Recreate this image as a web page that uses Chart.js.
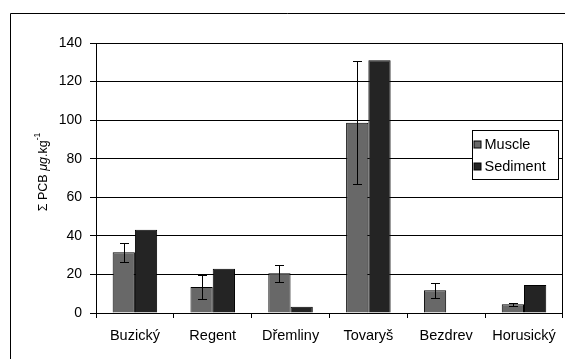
<!DOCTYPE html>
<html>
<head>
<meta charset="utf-8">
<script src="https://cdn.jsdelivr.net/npm/chart.js@4/dist/chart.umd.min.js"></script>
<style>
  html, body { margin: 0; padding: 0; background: #fff; }
  #wrap { width: 565px; height: 359px; position: relative; }
</style>
</head>
<body>
<div id="wrap"><canvas id="c" width="565" height="359"></canvas></div>
<script>
// Sites along the river
const sites = ['Buzický', 'Regent', 'Dřemliny', 'Tovaryš', 'Bezdrev', 'Horusický'];
// Σ PCB in fish muscle (mean) and its spread
const muscle = [31.5, 13.5, 20.6, 98.7, 11.8, 4.5];
const muscleErr = [4.8, 6.0, 4.4, 32.0, 4.0, 0.8];
// Σ PCB in sediment
const sediment = [43.2, 23.0, 3.3, 131.0, null, 14.5];
// Axis range and step
const yMax = 140;
const yStep = 20;

const FONT = '"Liberation Sans", Arial, sans-serif';
const MUSCLE_COLOR = '#686868';
const SEDIMENT_COLOR = '#242424';

// Outer frame around the chart object
const framePlugin = {
  id: 'frame',
  beforeDraw(chart) {
    const ctx = chart.ctx;
    ctx.save();
    ctx.fillStyle = '#fff';
    ctx.fillRect(0, 0, chart.width, chart.height);
    ctx.strokeStyle = '#000';
    ctx.lineWidth = 1;
    ctx.beginPath();
    ctx.moveTo(10.5, chart.height);
    ctx.lineTo(10.5, 13.5);
    ctx.lineTo(chart.width, 13.5);
    ctx.stroke();
    ctx.restore();
  },
  afterDraw(chart) {
    const ctx = chart.ctx;
    const a = chart.chartArea;
    ctx.save();
    ctx.strokeStyle = '#000';
    ctx.lineWidth = 1;
    ctx.beginPath();
    ctx.moveTo(Math.round(a.right) - 0.5, a.top);
    ctx.lineTo(Math.round(a.right) - 0.5, a.bottom + 4);
    ctx.stroke();
    ctx.restore();
  }
};

// Error bars on the muscle series
const errorBarPlugin = {
  id: 'errorBars',
  afterDatasetsDraw(chart) {
    const ctx = chart.ctx;
    const meta = chart.getDatasetMeta(0);
    const y = chart.scales.y;
    ctx.save();
    ctx.strokeStyle = '#000';
    ctx.lineWidth = 1;
    meta.data.forEach((bar, i) => {
      const v = muscle[i];
      const e = muscleErr[i];
      if (v == null || e == null) return;
      const x = Math.round(bar.x) + 0.5;
      const yTop = Math.round(y.getPixelForValue(v + e)) + 0.5;
      const yBot = Math.round(y.getPixelForValue(v - e)) + 0.5;
      const cap = 4.5;
      ctx.beginPath();
      ctx.moveTo(x, yTop); ctx.lineTo(x, yBot);
      ctx.moveTo(x - cap, yTop); ctx.lineTo(x + cap, yTop);
      ctx.moveTo(x - cap, yBot); ctx.lineTo(x + cap, yBot);
      ctx.stroke();
    });
    ctx.restore();
  }
};

// Boxed legend inside the plot area, right side
const boxLegendPlugin = {
  id: 'boxLegend',
  afterDraw(chart) {
    const ctx = chart.ctx;
    const a = chart.chartArea;
    const w = 86, h = 49;
    const left = Math.round(a.right - 91) + 0.5;
    const top = Math.round(a.top + 87) + 0.5;
    ctx.save();
    ctx.fillStyle = '#fff';
    ctx.fillRect(left, top, w, h);
    ctx.strokeStyle = '#000';
    ctx.lineWidth = 1;
    ctx.strokeRect(left, top, w, h);
    ctx.font = '14.5px ' + FONT;
    ctx.textBaseline = 'middle';
    chart.data.datasets.forEach((ds, i) => {
      const cy = top + 14 + i * 22;
      ctx.fillStyle = ds.backgroundColor;
      ctx.fillRect(left + 1.5, cy - 3.5, 7, 7);
      ctx.strokeStyle = '#000';
      ctx.strokeRect(left + 1.5, cy - 3.5, 7, 7);
      ctx.fillStyle = '#000';
      ctx.fillText(ds.label, left + 12, cy + 0.5);
    });
    ctx.restore();
  }
};

// Rotated y-axis title with italic unit and superscript exponent
const yTitlePlugin = {
  id: 'yTitle',
  afterDraw(chart) {
    const ctx = chart.ctx;
    const a = chart.chartArea;
    const parts = [
      { t: 'Σ PCB ', f: '12.5px ' + FONT, dy: 0 },
      { t: 'μg', f: 'italic 12.5px ' + FONT, dy: 0 },
      { t: '.kg', f: '12.5px ' + FONT, dy: 0 },
      { t: '-1', f: '8.5px ' + FONT, dy: -6 }
    ];
    ctx.save();
    let total = 0;
    parts.forEach(p => { ctx.font = p.f; p.w = ctx.measureText(p.t).width; total += p.w; });
    ctx.translate(44, (a.top + a.bottom) / 2 - 6);
    ctx.rotate(-Math.PI / 2);
    ctx.fillStyle = '#000';
    ctx.textBaseline = 'middle';
    let x = -total / 2;
    parts.forEach(p => {
      ctx.font = p.f;
      ctx.fillText(p.t, x, p.dy);
      x += p.w;
    });
    ctx.restore();
  }
};

new Chart(document.getElementById('c'), {
  type: 'bar',
  data: {
    labels: sites,
    datasets: [
      {
        label: 'Muscle',
        data: muscle,
        backgroundColor: MUSCLE_COLOR,
        borderColor: '#000',
        borderWidth: 1,
        borderSkipped: 'start'
      },
      {
        label: 'Sediment',
        data: sediment,
        backgroundColor: SEDIMENT_COLOR,
        borderColor: '#000',
        borderWidth: 1,
        borderSkipped: 'start'
      }
    ]
  },
  options: {
    responsive: false,
    animation: false,
    devicePixelRatio: 1,
    layout: { padding: { top: 43, right: 2, bottom: 0, left: 0 } },
    datasets: {
      bar: { categoryPercentage: 0.572, barPercentage: 1.0 }
    },
    plugins: {
      legend: { display: false },
      tooltip: { enabled: false },
      title: { display: false }
    },
    scales: {
      x: {
        offset: true,
        grid: {
          offset: true,
          drawOnChartArea: false,
          drawTicks: true,
          tickLength: 5,
          color: '#000'
        },
        border: { color: '#000', width: 1 },
        ticks: {
          color: '#000',
          font: { family: FONT, size: 14.5 },
          padding: 9,
          maxRotation: 0
        },
        afterFit(s) { s.height = 46; }
      },
      y: {
        min: 0,
        max: yMax,
        ticks: {
          stepSize: yStep,
          color: '#000',
          font: { family: FONT, size: 14 },
          padding: 8
        },
        grid: {
          color: '#000',
          lineWidth: 1,
          tickLength: 6,
          drawTicks: true
        },
        border: { color: '#000', width: 1 },
        afterFit(s) { s.width = 96; }
      }
    }
  },
  plugins: [framePlugin, errorBarPlugin, boxLegendPlugin, yTitlePlugin]
});
</script>
</body>
</html>
